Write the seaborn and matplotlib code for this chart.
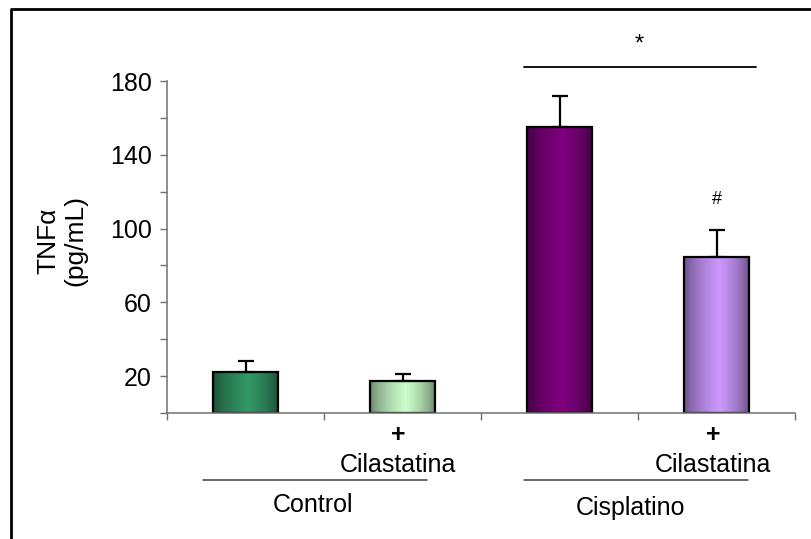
import numpy as np
import pandas as pd
import matplotlib
matplotlib.use("Agg")
import matplotlib.pyplot as plt
import matplotlib.colors as mcolors
from matplotlib.transforms import blended_transform_factory
from matplotlib.lines import Line2D
import seaborn as sns

# TNF-alpha levels (pg/mL), mean and SEM per group
grupos = ["Control", "Control + Cilastatina", "Cisplatino", "Cisplatino + Cilastatina"]
tnf = [22, 17.5, 155, 84.5]
sem = [6, 3.5, 17, 14.5]
colores = ["#339966", "#ccffcc", "#800080", "#cc99ff"]
yticks = [0, 20, 40, 60, 80, 100, 120, 140, 160, 180]
ytick_labels = ["", "20", "", "60", "", "100", "", "140", "", "180"]

sns.set_style("white")
plt.rcParams["font.family"] = ["Liberation Sans", "DejaVu Sans"]
plt.rcParams["text.color"] = "black"
plt.rcParams["ytick.labelcolor"] = "black"

W, H = 811, 539
FS = 18
fig = plt.figure(figsize=(W / 100, H / 100), dpi=100)
ax = fig.add_axes([167 / W, 1 - 413 / H, (795 - 167) / W, (413 - 81) / H])

df = pd.DataFrame({"grupo": grupos, "tnf": tnf})
sns.barplot(data=df, x="grupo", y="tnf", order=grupos, hue="grupo",
            palette=colores, legend=False, width=0.41, errorbar=None,
            edgecolor="black", linewidth=1.6, ax=ax)

# Horizontal shading inside each bar: dark edges, light centre
t = np.linspace(0, 1, 200)
peak = 0.55
w = np.where(t < peak, t / peak, (1 - t) / (1 - peak))
w = w ** 0.6
for patch, col in zip(ax.patches, colores):
    c = np.array(mcolors.to_rgb(col))
    edge = c * 0.48
    grad = edge[None, :] + (c - edge)[None, :] * w[:, None]
    x0, y0 = patch.get_x(), patch.get_y()
    x1, y1 = x0 + patch.get_width(), y0 + patch.get_height()
    im = ax.imshow(grad[None, :, :], extent=[x0, x1, y0, y1], aspect="auto",
                   zorder=patch.get_zorder() - 0.1, interpolation="bilinear")
    im.set_clip_path(patch)
    patch.set_facecolor("none")
    patch.set_zorder(patch.get_zorder() + 0.2)

# Upper error bars only
xpos = np.arange(len(grupos))
ax.errorbar(xpos, tnf, yerr=[np.zeros(len(sem)), sem], fmt="none",
            ecolor="black", elinewidth=1.6, capsize=5.5, capthick=1.6, zorder=1)

ax.set_xlim(-0.5, 3.5)
ax.set_ylim(0, 180)
ax.set_yticks(yticks)
ax.set_yticklabels(ytick_labels, fontsize=FS, color="black")
ax.set_xticks([-0.5, 0.5, 1.5, 2.5, 3.5])
ax.set_xticklabels([])
ax.set_xlabel("")
ax.set_ylabel("")
ax.tick_params(axis="both", direction="out", length=5, width=1, color="#707070",
               left=True, bottom=True, pad=6)
for side in ["top", "right"]:
    ax.spines[side].set_visible(False)
for side in ["left", "bottom"]:
    ax.spines[side].set_color("#707070")
    ax.spines[side].set_linewidth(1.1)

fig.text(62 / W, 1 - 241 / H, "TNF\u03b1\n(pg/mL)", rotation=90, ha="center",
         va="center", fontsize=19, multialignment="center", linespacing=1.15)

# Significance marks
ax.plot([1.774, 3.25], [187.6, 187.6], color="black", lw=1.3, clip_on=False)
ax.text(2.51, 200, "*", ha="center", va="center", fontsize=17, clip_on=False)
ax.text(3.0, 115.5, "#", ha="center", va="center", fontsize=13)

# Group annotations below the axis
tr = blended_transform_factory(ax.transData, fig.transFigure)
for xc in [0.97, 2.98]:
    ax.text(xc, 1 - 435 / H, "+", ha="center", va="center", fontsize=FS,
            fontweight="bold", transform=tr)
    ax.text(xc, 1 - 465 / H, "Cilastatina", ha="center", va="center",
            fontsize=FS, transform=tr)
for (xa, xb) in [(-0.27, 1.156), (1.774, 3.20)]:
    ax.add_line(Line2D([xa, xb], [1 - 480 / H] * 2, color="#404040", lw=1.1,
                       transform=tr, clip_on=False))
ax.text(0.43, 1 - 505 / H, "Control", ha="center", va="center", fontsize=FS,
        transform=tr)
ax.text(2.45, 1 - 508 / H, "Cisplatino", ha="center", va="center",
        fontsize=FS, transform=tr)

# Outer frame (left and top edges)
fig.add_artist(Line2D([10.5 / W, 10.5 / W, 1.0], [0.0, 1 - 8.5 / H, 1 - 8.5 / H],
                      color="black", lw=2.0, transform=fig.transFigure))

fig.savefig("out.png", dpi=100)
